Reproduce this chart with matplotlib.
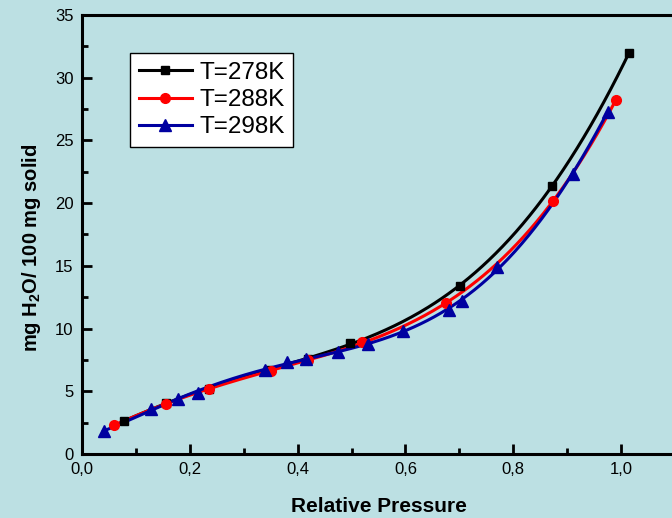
import numpy as np
import matplotlib
matplotlib.use('Agg')
import matplotlib.pyplot as plt
from matplotlib.ticker import MultipleLocator, FixedLocator, FixedFormatter

# data
x_278 = [0.078, 0.155, 0.235, 0.345, 0.42, 0.497, 0.701, 0.872, 1.015]
y_278 = [2.6, 4.1, 5.2, 6.7, 7.6, 8.85, 13.4, 21.4, 32.0]

x_288 = [0.06, 0.155, 0.235, 0.35, 0.42, 0.52, 0.675, 0.874, 0.99]
y_288 = [2.3, 4.0, 5.2, 6.6, 7.5, 8.9, 12.0, 20.2, 28.2]

x_298 = [0.04, 0.128, 0.178, 0.215, 0.34, 0.38, 0.415, 0.475, 0.53, 0.595,
         0.68, 0.705, 0.77, 0.91, 0.975]
y_298 = [1.8, 3.6, 4.4, 4.9, 6.7, 7.3, 7.6, 8.1, 8.8, 9.8,
         11.5, 12.2, 14.9, 22.3, 27.3]

labels = ['T=278K', 'T=288K', 'T=298K']
x_ticks = [0.0, 0.2, 0.4, 0.6, 0.8, 1.0]
x_ticklabels = ['0,0', '0,2', '0,4', '0,6', '0,8', '1,0']
y_ticks = [0, 5, 10, 15, 20, 25, 30, 35]

plt.rcParams['font.family'] = ['Liberation Sans', 'DejaVu Sans']
plt.rcParams['mathtext.fontset'] = 'custom'
plt.rcParams['mathtext.rm'] = 'Liberation Sans'
plt.rcParams['mathtext.bf'] = 'Liberation Sans:bold'

bg = '#bce0e3'
fig = plt.figure(figsize=(6.72, 5.18), dpi=100, facecolor=bg)
ax = fig.add_axes([0.122, 0.1236, 0.8825, 0.8475], facecolor=bg)

series = [(x_278, y_278, 'black', 's', 6),
          (x_288, y_288, '#ff0000', 'o', 7),
          (x_298, y_298, '#0000a0', '^', 8)]

for (xs, ys, c, m, ms), lab in zip(series, labels):
    xs = np.array(xs)
    ys = np.array(ys)
    # smooth fitted curve through the points
    p = np.polyfit(xs, ys, 5)
    xx = np.linspace(xs.min(), xs.max(), 300)
    ax.plot(xx, np.polyval(p, xx), color=c, lw=2.2, zorder=2)
    ax.plot(xs, ys, linestyle='none', marker=m, color=c, ms=ms, zorder=3)
    # legend proxy
    ax.plot([], [], color=c, lw=2.2, marker=m, ms=ms, label=lab)

ax.set_xlim(0, 1.1)
ax.set_ylim(0, 35)
ax.xaxis.set_major_locator(FixedLocator(x_ticks))
ax.xaxis.set_major_formatter(FixedFormatter(x_ticklabels))
ax.xaxis.set_minor_locator(MultipleLocator(0.1))
ax.set_yticks(y_ticks)
ax.yaxis.set_minor_locator(MultipleLocator(2.5))

ax.tick_params(which='major', direction='in', length=7, width=2, labelsize=12, pad=6)
ax.tick_params(which='minor', direction='in', length=4, width=2)
for s in ax.spines.values():
    s.set_linewidth(2.2)

ax.set_xlabel('Relative Pressure', fontsize=15, fontweight='bold', labelpad=14)
ax.set_ylabel(r'mg H$_\mathbf{2}$O/ 100 mg solid', fontsize=14.5, fontweight='bold')
ax.yaxis.set_label_coords(-0.066, 0.47)

leg = ax.legend(loc='upper left', bbox_to_anchor=(0.081, 0.913), borderaxespad=0,
                fontsize=17.5, frameon=True, fancybox=False, edgecolor='black',
                framealpha=1, handlelength=2.2, handletextpad=0.3, borderpad=0.35,
                labelspacing=0.22)
leg.get_frame().set_linewidth(1.0)

fig.savefig('out.png', dpi=100, facecolor=bg)
